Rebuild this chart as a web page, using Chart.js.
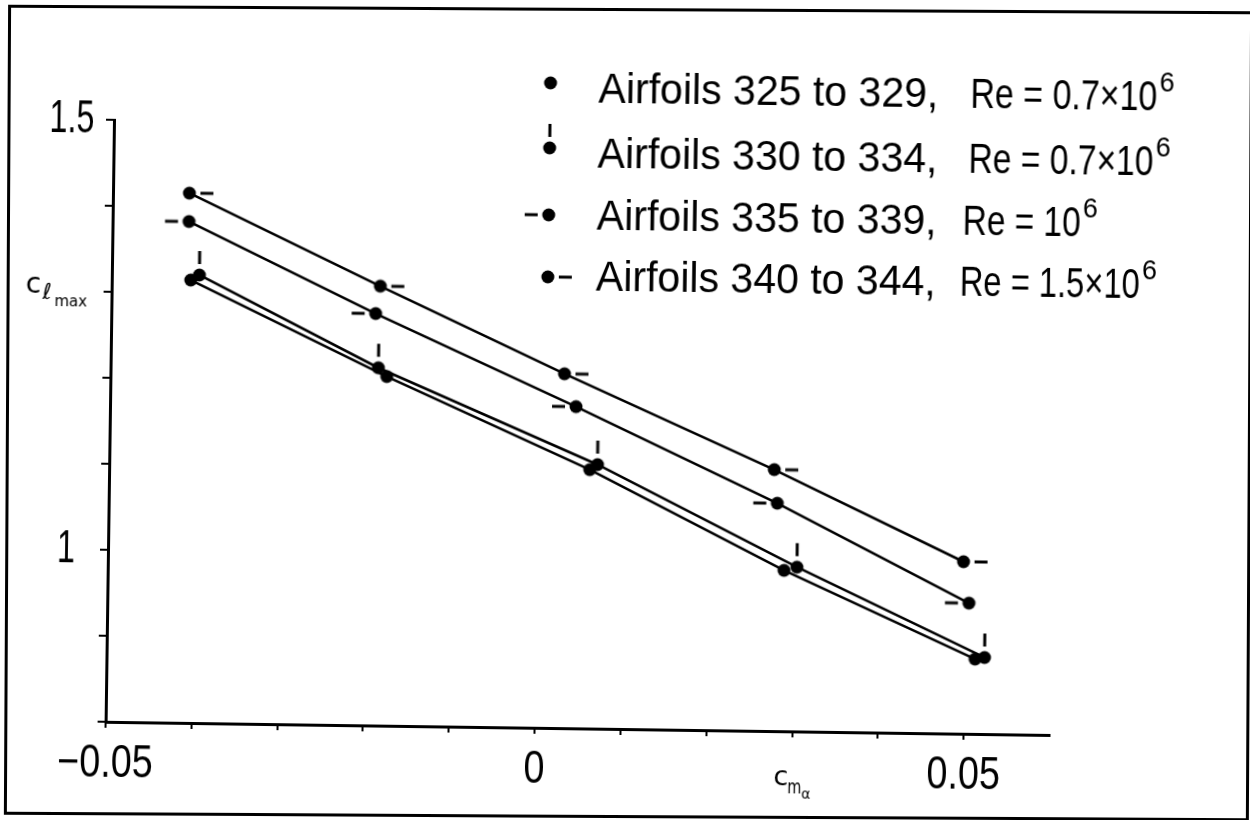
<!DOCTYPE html>
<html>
<head>
<meta charset="utf-8">
<script src="https://cdn.jsdelivr.net/npm/chart.js@4.4.1/dist/chart.umd.min.js"></script>
<style>
  html, body { margin: 0; padding: 0; background: #fff; overflow: hidden; }
  /* the scan is turned a little clockwise: plot by 0.8deg, outer frame by 0.3deg */
  #sheet { position: absolute; left: 0; top: 0; width: 1250px; height: 820px; transform: rotate(0.8deg); transform-origin: 625px 410px; }
  #frame { position: absolute; left: 6px; top: 8px; width: 1245px; height: 810px; box-sizing: border-box; border: 3px solid #000; transform: rotate(0.3deg); transform-origin: 619px 402px; }
  #chart { position: absolute; left: 0; top: 0; }
</style>
</head>
<body>
<div id="frame"></div>
<div id="sheet">
  <canvas id="chart" width="1250" height="820"></canvas>
</div>
<script>
// values: c_m_alpha (x) and c_l_max (y)
const cmA = [-0.0408, -0.0178, 0.0060, 0.0288, 0.0512];
const clA = [1.315, 1.206, 1.101, 0.987, 0.887];
const cmB = [-0.0398, -0.0188, 0.0069, 0.0303, 0.0523];
const clB = [1.321, 1.216, 1.107, 0.991, 0.889];
const cmC = [-0.0411, -0.0192, 0.0043, 0.0279, 0.0504];
const clC = [1.383, 1.279, 1.174, 1.065, 0.952];
const cmD = [-0.0411, -0.0187, 0.0029, 0.0275, 0.0497];
const clD = [1.416, 1.311, 1.212, 1.104, 1.000];

const seriesNames = ['Airfoils 325 to 329,', 'Airfoils 330 to 334,', 'Airfoils 335 to 339,', 'Airfoils 340 to 344,'];
const reText = ['Re = 0.7×10', 'Re = 0.7×10', 'Re = 10', 'Re = 1.5×10'];
const reExp = ['6', '6', '6', '6'];

const xTickValues = [-0.05, 0, 0.05];
const xTickLabels = ['\u22120.05', '0', '0.05'];
const yTickValues = [1.5, 1];
const yTickLabels = ['1.5', '1'];

const sans = '"Liberation Sans", Arial, sans-serif';
const textFont = '"DejaVu Sans"';

// marker glyphs: plain dot, dot with tick above, dash left, dash right
function makeMarker(kind) {
  const c = document.createElement('canvas');
  c.width = 52; c.height = 52;
  const g = c.getContext('2d');
  g.fillStyle = '#000';
  g.beginPath();
  g.arc(26, 26, 6.5, 0, Math.PI * 2);
  g.fill();
  if (kind === 'tick') g.fillRect(24.5, 2, 3, 13);
  if (kind === 'left') g.fillRect(2, 24.5, 13, 3);
  if (kind === 'right') g.fillRect(37, 24.5, 13, 3);
  return c;
}
const markers = ['dot', 'tick', 'left', 'right'].map(makeMarker);

function pickLabel(v, values, labels) {
  const i = values.findIndex(t => Math.abs(t - v) < 1e-9);
  return i < 0 ? '' : labels[i];
}

const xs = [cmA, cmB, cmC, cmD];
const ys = [clA, clB, clC, clD];
const datasets = xs.map((xv, i) => ({
  label: seriesNames[i],
  data: xv.map((v, j) => ({ x: v, y: ys[i][j] })),
  showLine: true,
  borderColor: '#000',
  backgroundColor: '#000',
  borderWidth: 2.5,
  pointStyle: markers[i],
  pointRadius: 7,
  pointHoverRadius: 7,
}));

// legend rows, tick labels and axis titles, drawn as text on top
const rowY = [103, 168, 230, 291];
const markY = [84, 149, 216, 278];
const reX = [966, 965, 960, 958];
const reW = [187, 185, 118, 180];

const annotate = {
  id: 'annotate',
  afterDraw(chart) {
    const ctx = chart.ctx;
    const { x, y } = chart.scales;
    const area = chart.chartArea;
    ctx.save();
    ctx.fillStyle = '#000';

    // tick labels, narrowed like the stencil lettering
    ctx.textAlign = 'center';
    ctx.textBaseline = 'middle';
    ctx.font = '46px ' + sans;
    x.ticks.forEach(t => {
      const s = pickLabel(t.value, xTickValues, xTickLabels);
      if (!s) return;
      ctx.fillText(s, x.getPixelForValue(t.value), area.bottom + 42, ctx.measureText(s).width * 0.82);
    });
    y.ticks.forEach(t => {
      const s = pickLabel(t.value, yTickValues, yTickLabels);
      if (!s) return;
      ctx.fillText(s, area.left - 42, y.getPixelForValue(t.value), ctx.measureText(s).width * 0.7);
    });

    ctx.textAlign = 'left';
    ctx.textBaseline = 'alphabetic';
    for (let i = 0; i < seriesNames.length; i++) {
      const m = markers[i];
      ctx.drawImage(m, 546 - m.width / 2, markY[i] - m.height / 2);
      ctx.font = '42px ' + sans;
      ctx.fillText(seriesNames[i], 594, rowY[i], 340);
      const w = Math.min(ctx.measureText(reText[i]).width, reW[i]);
      ctx.fillText(reText[i], reX[i], rowY[i], reW[i]);
      ctx.font = '27px ' + sans;
      ctx.fillText(reExp[i], reX[i] + w + 2, rowY[i] - 19);
    }

    // c_m_alpha under the 0.03 tick
    const tx = x.getPixelForValue(0.03);
    ctx.font = '27px ' + textFont;
    ctx.fillText('c', tx - 18, area.bottom + 54);
    ctx.font = '19px ' + textFont;
    ctx.fillText('m', tx - 4, area.bottom + 62, 14);
    ctx.font = '14px ' + textFont;
    ctx.fillText('\u03b1', tx + 10, area.bottom + 67);

    // c_l_max beside the 1.3 tick
    const ty = y.getPixelForValue(1.3);
    ctx.font = '28px ' + textFont;
    ctx.fillText('c', 24, ty + 2);
    ctx.font = '22px ' + textFont;
    ctx.fillText('\u2113', 41, ty + 8);
    ctx.font = '15px ' + textFont;
    ctx.fillText('max', 53, ty + 15, 33);
    ctx.restore();
  }
};

new Chart(document.getElementById('chart'), {
  type: 'scatter',
  data: { datasets: datasets },
  options: {
    responsive: false,
    devicePixelRatio: 1,
    animation: false,
    events: [],
    layout: { padding: { left: 0, top: 127, right: 196, bottom: 0 } },
    plugins: { legend: { display: false }, tooltip: { enabled: false } },
    scales: {
      x: {
        type: 'linear',
        min: -0.05,
        max: 0.06,
        afterBuildTicks: axis => {
          axis.ticks = [];
          for (let k = -5; k <= 5; k++) axis.ticks.push({ value: k / 100 });
        },
        afterFit: axis => { axis.height = 91; },
        grid: { drawOnChartArea: false, drawTicks: true, tickLength: 6, color: '#000', lineWidth: 2 },
        border: { display: true, color: '#000', width: 3 },
        ticks: { display: false, autoSkip: false },
      },
      y: {
        type: 'linear',
        min: 0.8,
        max: 1.5,
        afterFit: axis => { axis.width = 110; },
        grid: { drawOnChartArea: false, drawTicks: true, tickLength: 8, color: '#000', lineWidth: 2 },
        border: { display: true, color: '#000', width: 3 },
        ticks: { display: false, stepSize: 0.1, autoSkip: false },
      },
    },
  },
  plugins: [annotate],
});
</script>
</body>
</html>
